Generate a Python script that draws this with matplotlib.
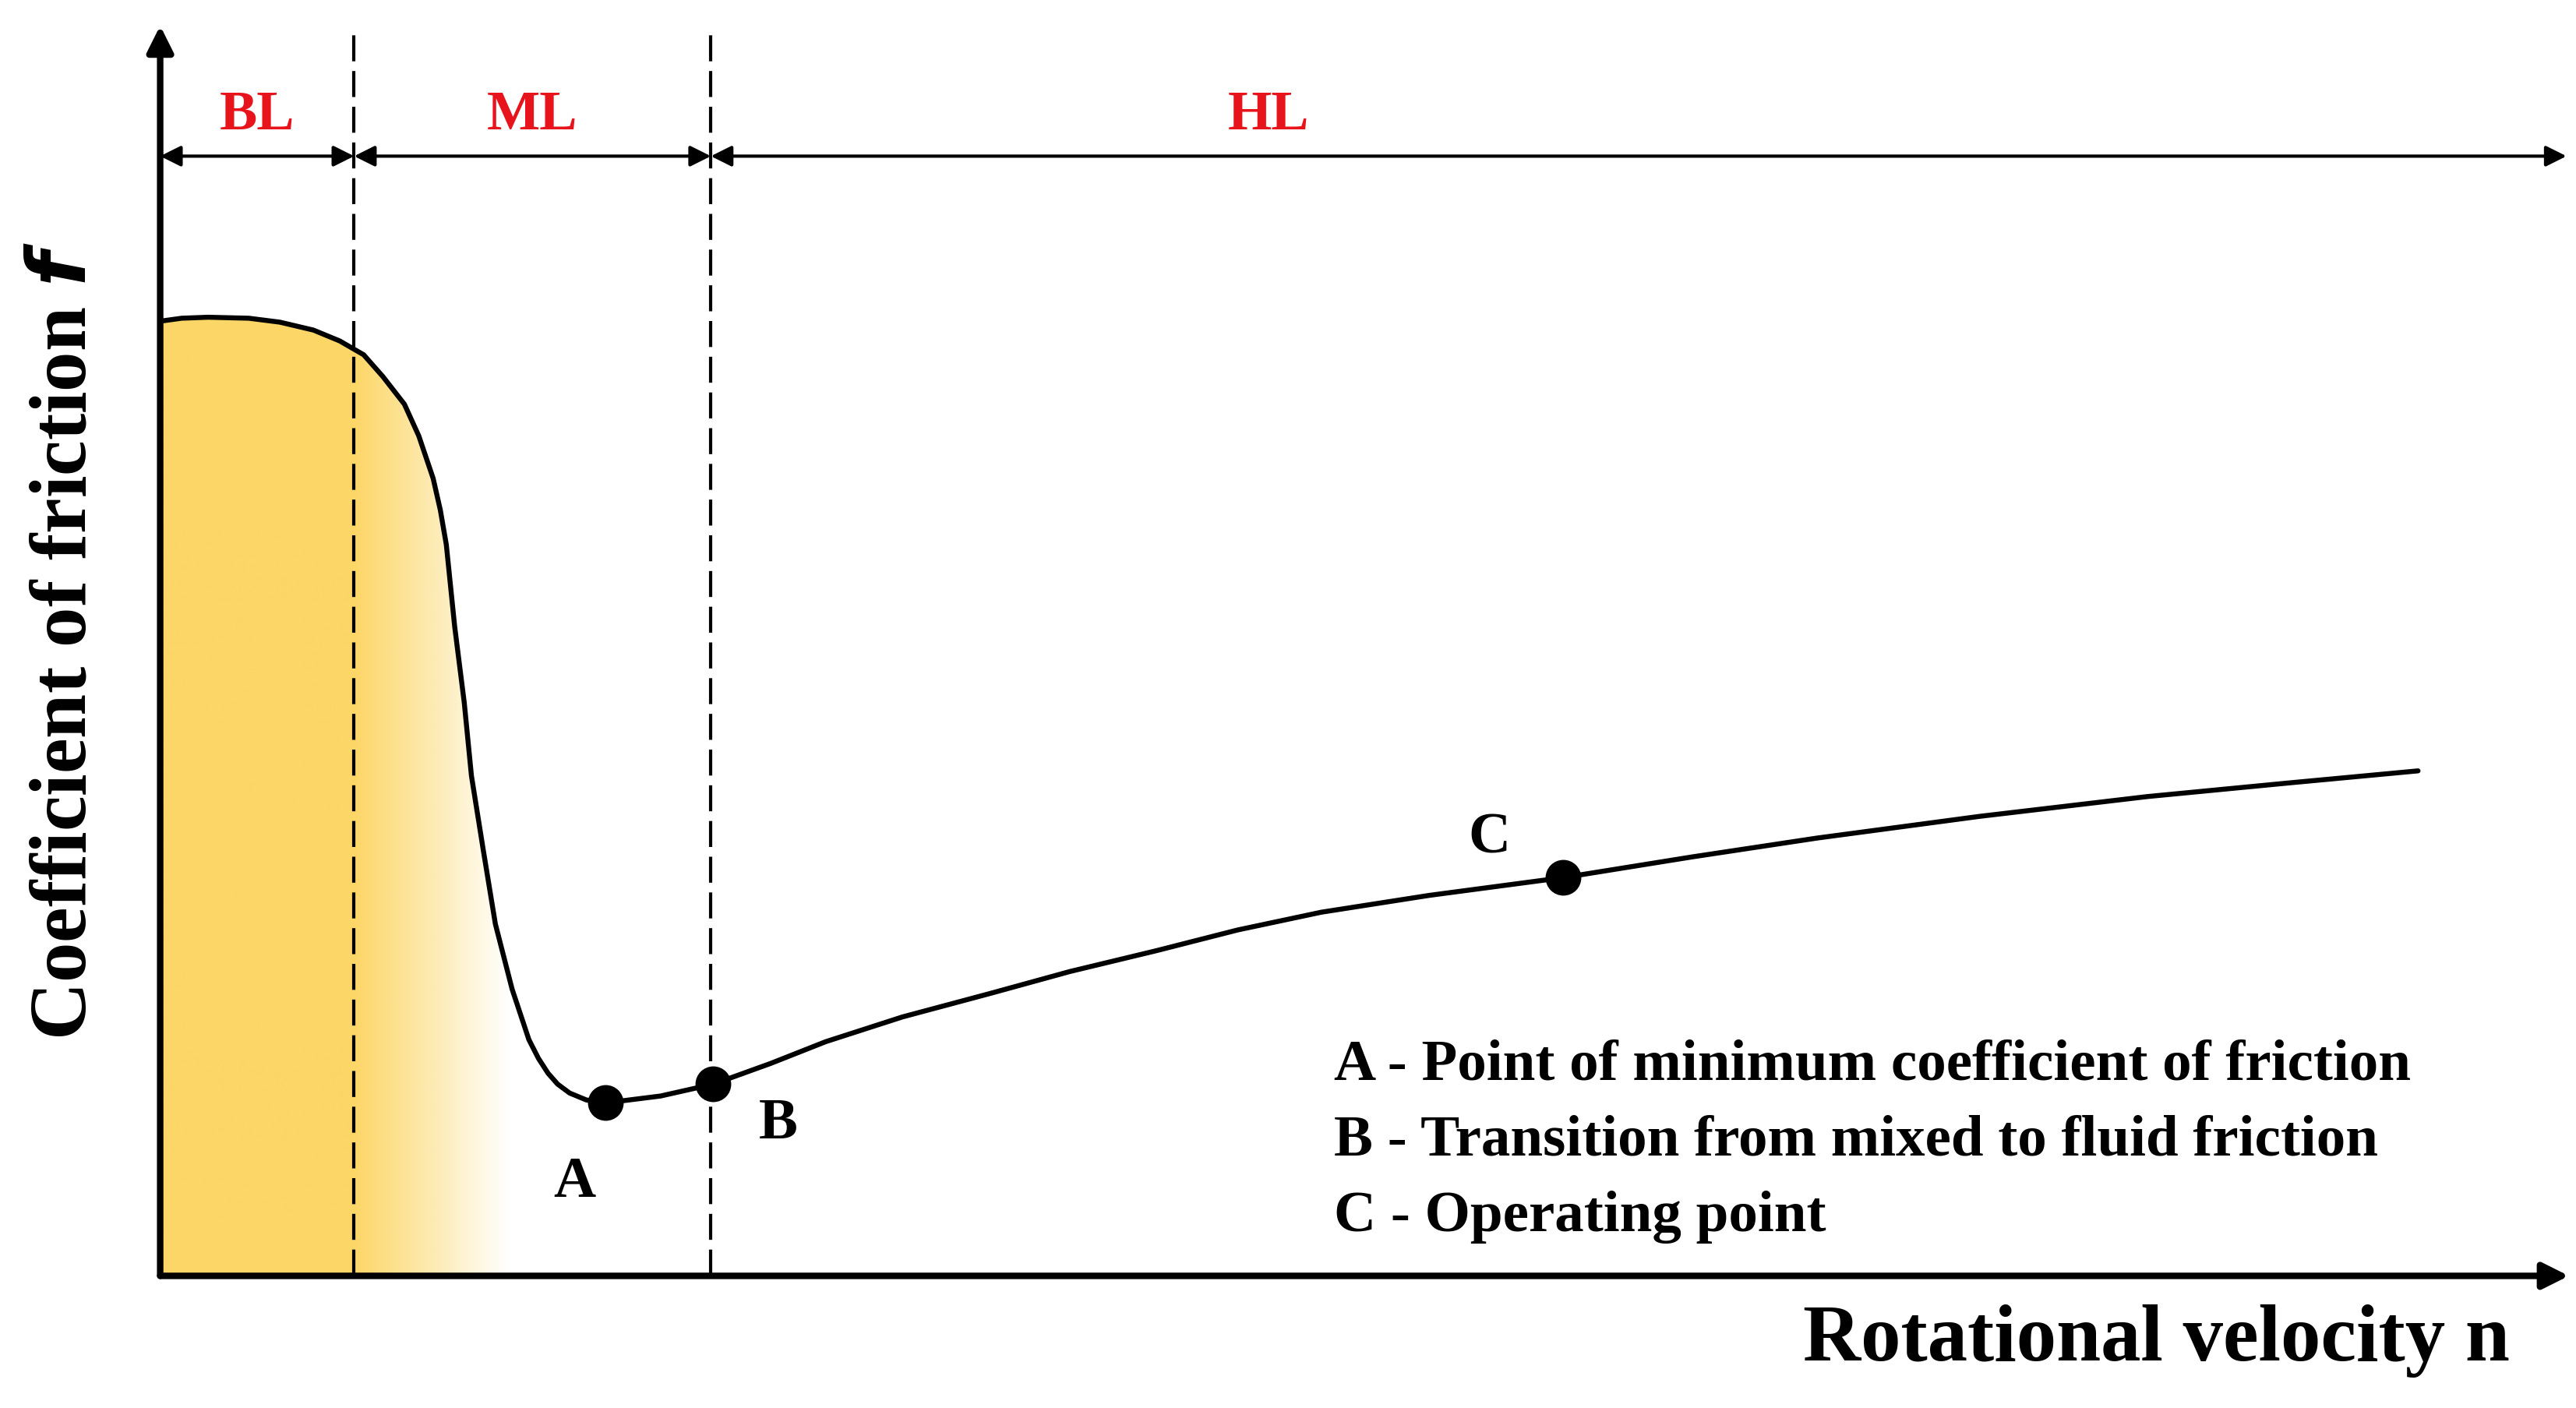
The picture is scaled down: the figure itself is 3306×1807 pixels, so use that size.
import numpy as np
import matplotlib
matplotlib.use("Agg")
import matplotlib.pyplot as plt
from matplotlib.path import Path
from matplotlib.patches import PathPatch

# Stribeck curve (velocity in arbitrary units, friction coefficient arbitrary units)
velocity = [0, 0.9, 2.0, 3.7, 5.0, 6.4, 7.5, 8.5, 9.3, 10.2, 10.8, 11.4, 11.7, 11.95, 12.3, 12.7, 13.0, 13.5, 14.0, 14.7, 15.4, 15.8, 16.2, 16.6, 17.1, 17.8, 18.6, 20.9, 23.1, 25.5, 27.8, 31.0, 34.7, 38.0, 41.6, 45.0, 48.5, 53.0, 58.6, 64.0, 69.2, 76.0, 83.0, 89.0, 94.3]
friction = [0.966, 0.969, 0.970, 0.969, 0.965, 0.957, 0.946, 0.932, 0.910, 0.882, 0.850, 0.807, 0.775, 0.740, 0.657, 0.580, 0.506, 0.430, 0.356, 0.290, 0.239, 0.220, 0.205, 0.194, 0.185, 0.178, 0.175, 0.182, 0.194, 0.215, 0.237, 0.262, 0.286, 0.308, 0.329, 0.350, 0.368, 0.385, 0.403, 0.424, 0.443, 0.465, 0.485, 0.499, 0.511]
points_x = [18.6, 23.1, 58.6]
points_y = [0.175, 0.194, 0.403]
point_labels = ["A", "B", "C"]
boundaries = [8.1, 23.0]
regions = ["BL", "ML", "HL"]
legend_lines = ["A - Point of minimum coefficient of friction",
                "B - Transition from mixed to fluid friction",
                "C - Operating point"]

W, H = 1560, 853
fig = plt.figure(figsize=(33.06, 18.08), dpi=100)
x0, y0 = 97 / W, 1 - 773 / H
x1, y1 = 1547 / W, 1 - 25 / H
ax = fig.add_axes([x0, y0, x1 - x0, y1 - y0])
ax.set_xlim(0, 100)
ax.set_ylim(0, 1.25)
ax.axis("off")
ff = "Liberation Serif"

# gradient fill
vx = np.array(velocity); vy = np.array(friction)
mask = vx <= 16.2
verts = [(0, 0)] + list(zip(vx[mask], vy[mask])) + [(16.2, 0), (0, 0)]
patch = PathPatch(Path(verts), facecolor="none", edgecolor="none")
ax.add_patch(patch)
gx = np.linspace(0, 16.2, 400)
alpha = np.clip(1 - (gx - 8.1) / (14.6 - 8.1), 0, 1)
img = np.zeros((2, 400, 4))
img[..., 0] = 0.99; img[..., 1] = 0.84; img[..., 2] = 0.40
img[..., 3] = alpha
im = ax.imshow(img, extent=[0, 16.2, 0, 1.0], aspect="auto", zorder=1)
im.set_clip_path(patch)

ax.plot(velocity, friction, color="black", lw=4.6, zorder=3,
        solid_capstyle="round", solid_joinstyle="round")
ax.plot(points_x, points_y, "o", color="black", ms=32, zorder=4)
offs = [(-1.3, -0.08), (2.7, -0.04), (-3.1, 0.04)]
for px, py, lab, (dx, dy) in zip(points_x, points_y, point_labels, offs):
    ax.text(px + dx, py + dy, lab, fontsize=54, fontweight="bold", family=ff,
            ha="center", va="center")

for b in boundaries:
    ax.plot([b, b], [0, 1.265], color="black", lw=3, ls=(0, (8, 3)), zorder=2, clip_on=False)

# region arrows
edges = [0] + boundaries + [100.5]
for i, r in enumerate(regions):
    ax.annotate("", xy=(edges[i + 1], 1.133), xytext=(edges[i], 1.133),
                arrowprops=dict(arrowstyle="<|-|>", color="black", lw=3, mutation_scale=40,
                                shrinkA=0, shrinkB=0), annotation_clip=False)
    ax.text((edges[i] + edges[i + 1]) / 2 if i < 2 else 46.3, 1.175, r, color="#e8141c",
            fontsize=52, fontweight="bold", family=ff, ha="center", va="center")

# axes arrows
ax.annotate("", xy=(0, 1.265), xytext=(0, 0),
            arrowprops=dict(arrowstyle="-|>", color="black", lw=6, mutation_scale=50,
                            shrinkA=0, shrinkB=0), annotation_clip=False)
ax.annotate("", xy=(100.6, 0), xytext=(0, 0),
            arrowprops=dict(arrowstyle="-|>", color="black", lw=6, mutation_scale=50,
                            shrinkA=0, shrinkB=0), annotation_clip=False)

fig.text(40 / W, 1 - 388 / H, r"Coefficient of friction $\mathbfit{f}$", rotation=90,
         fontsize=74, fontweight="bold", family=ff, ha="center", va="center")
fig.text(1520 / W, 1 - 812 / H, "Rotational velocity n", fontsize=74, fontweight="bold",
         family=ff, ha="right", va="center")
for i, t in enumerate(legend_lines):
    fig.text(808 / W, 1 - (645 + 46 * i) / H, t, fontsize=54, fontweight="bold",
             family=ff, ha="left", va="center")

fig.savefig("out.png", dpi=100)
